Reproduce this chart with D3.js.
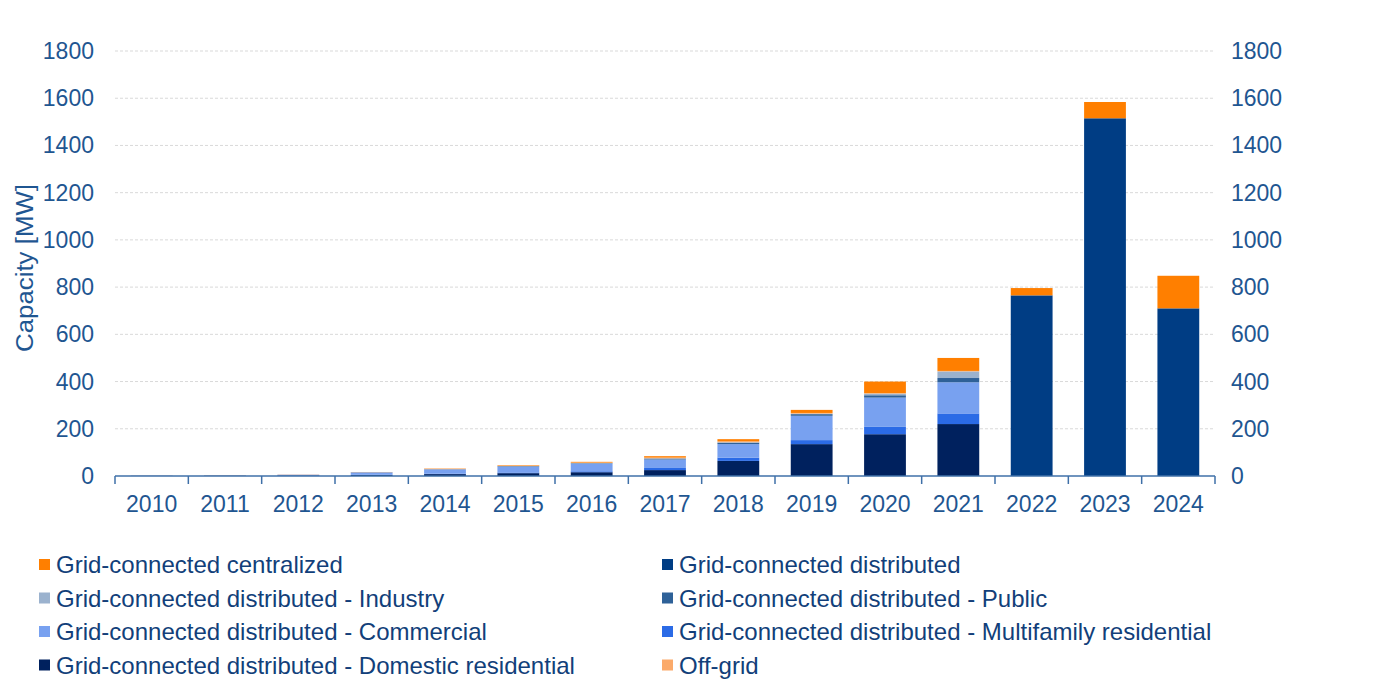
<!DOCTYPE html>
<html><head><meta charset="utf-8">
<script src="https://cdn.jsdelivr.net/npm/d3@7/dist/d3.min.js"></script>
<style>body{margin:0;background:#fff;} svg{display:block;font-family:"Liberation Sans",Arial,sans-serif;}</style>
</head><body>
<svg id="c" width="1400" height="700"></svg>
<script>
const years = ["2010","2011","2012","2013","2014","2015","2016","2017","2018","2019","2020","2021","2022","2023","2024"];
const domestic    = [0.5,1,2,4,8,12,16,25,64,135,177,220,0,0,0];
const multifamily = [0,0,0.5,1,2,3,4,9,14,17,31,45,0,0,0];
const commercial  = [0.5,1,3,10,18,25,32,36,57,103,124,132,0,0,0];
const publicSec   = [0,0,0,1,1,2,2,4,6,7,10,18,0,0,0];
const industry    = [0,0,0,0,0,0,1,1,2,2,7,28,0,0,0];
const distributed = [0,0,0,0,0,0,0,0,0,0,0,0,765,1515,710];
const offgrid     = [0.5,1,1,1,2,2,2,3,4,3,2,2,0,0,0];
const centralized = [0,0,0,0,1,2,3,6,9,13,49,55,31,69,138];
const yTicks = [0,200,400,600,800,1000,1200,1400,1600,1800];

const series = [
  {key:"domestic", name:"Grid-connected distributed - Domestic residential", values:domestic, color:"#00215E"},
  {key:"multifamily", name:"Grid-connected distributed - Multifamily residential", values:multifamily, color:"#2B6BE6"},
  {key:"commercial", name:"Grid-connected distributed - Commercial", values:commercial, color:"#78A1F0"},
  {key:"public", name:"Grid-connected distributed - Public", values:publicSec, color:"#2E6198"},
  {key:"industry", name:"Grid-connected distributed - Industry", values:industry, color:"#9BB2CE"},
  {key:"distributed", name:"Grid-connected distributed", values:distributed, color:"#003D84"},
  {key:"offgrid", name:"Off-grid", values:offgrid, color:"#FBAA6A"},
  {key:"centralized", name:"Grid-connected centralized", values:centralized, color:"#FF7F00"}
];
const legendOrder = ["centralized","distributed","industry","public","commercial","multifamily","domestic","offgrid"];

const svg = d3.select("#c");
const L = 115, R = 1215, T = 51, B = 476;
const tickColor = "#1F5691", textColor = "#123F7A";

const x = d3.scaleBand().domain(years).range([L,R]).paddingInner(0.43).paddingOuter(0.215);
const y = d3.scaleLinear().domain([0,1800]).range([B,T]);

// gridlines
svg.append("g").selectAll("line").data(yTicks.filter(d=>d>0)).join("line")
  .attr("x1",L).attr("x2",R).attr("y1",d=>y(d)).attr("y2",d=>y(d))
  .attr("stroke","#d9d9d9").attr("stroke-width",1).attr("stroke-dasharray","3,2");

// stacked data
const rows = years.map((yr,i)=>{const o={year:yr}; series.forEach(s=>o[s.key]=s.values[i]); return o;});
const stack = d3.stack().keys(series.map(s=>s.key))(rows);
const colorOf = Object.fromEntries(series.map(s=>[s.key,s.color]));

svg.append("g").selectAll("g").data(stack).join("g")
  .attr("fill",d=>colorOf[d.key])
  .selectAll("rect").data(d=>d).join("rect")
  .attr("x",d=>x(d.data.year)).attr("width",x.bandwidth())
  .attr("y",d=>y(d[1])).attr("height",d=>Math.max(0,y(d[0])-y(d[1])));

// bottom axis line with ticks at band boundaries
const step = x.step();
const bounds = d3.range(years.length+1).map(i=>L+i*step);
svg.append("line").attr("x1",L).attr("x2",R).attr("y1",B).attr("y2",B)
  .attr("stroke","#3F70A8").attr("stroke-width",1.5);
svg.append("g").selectAll("line").data(bounds).join("line")
  .attr("x1",d=>d).attr("x2",d=>d).attr("y1",B).attr("y2",B+8)
  .attr("stroke","#3F70A8").attr("stroke-width",1.5);

// x labels
svg.append("g").selectAll("text").data(years).join("text")
  .attr("x",d=>x(d)+x.bandwidth()/2).attr("y",B+36)
  .attr("text-anchor","middle").attr("font-size",23).attr("fill",tickColor).text(d=>d);

// y labels left & right
svg.append("g").selectAll("text").data(yTicks).join("text")
  .attr("x",94).attr("y",d=>y(d)+8).attr("text-anchor","end")
  .attr("font-size",23).attr("fill",tickColor).text(d=>d);
svg.append("g").selectAll("text").data(yTicks).join("text")
  .attr("x",1231).attr("y",d=>y(d)+8).attr("text-anchor","start")
  .attr("font-size",23).attr("fill",tickColor).text(d=>d);

// y axis title
svg.append("text").attr("transform","translate(33,268) rotate(-90)")
  .attr("text-anchor","middle").attr("font-size",23).attr("fill",tickColor)
  .attr("textLength",168).attr("lengthAdjust","spacingAndGlyphs").text("Capacity [MW]");

// legend
const byKey = Object.fromEntries(series.map(s=>[s.key,s]));
const lg = svg.append("g").selectAll("g").data(legendOrder).join("g")
  .attr("transform",(d,i)=>`translate(${i%2===0?39:662},${565+Math.floor(i/2)*33.5})`);
lg.append("rect").attr("x",0).attr("y",-6).attr("width",11).attr("height",11).attr("fill",d=>byKey[d].color);
lg.append("text").attr("x",17).attr("y",8).attr("font-size",24).attr("fill",textColor).text(d=>byKey[d].name);
</script>
</body></html>
